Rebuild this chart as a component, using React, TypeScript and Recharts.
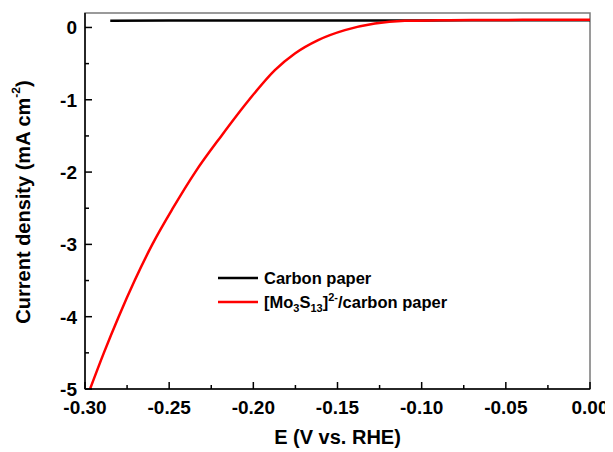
import React from 'react';
import {
  LineChart,
  Line,
  XAxis,
  YAxis,
  Legend,
  ReferenceArea,
} from 'recharts';

const FONT = "'Liberation Sans', Arial, Helvetica, sans-serif";

// Carbon paper (bare electrode)
const carbonE = [-0.285, -0.25, -0.2, -0.15, -0.1, -0.05, 0.0];
const carbonJ = [0.094, 0.095, 0.096, 0.097, 0.098, 0.099, 0.099];

// [Mo3S13]2-/carbon paper
const moE = [
  -0.297, -0.2888, -0.28, -0.2705, -0.26, -0.2478, -0.2345, -0.219, -0.2025,
  -0.1872, -0.1753, -0.1615, -0.1456, -0.1278, -0.11, -0.09, -0.07, -0.04,
  0.0,
];
const moJ = [
  -5.0, -4.5, -4.0, -3.5, -3.0, -2.5, -2.0, -1.5, -1.0, -0.59, -0.36, -0.175,
  -0.037, 0.055, 0.092, 0.099, 0.103, 0.105, 0.107,
];

const xTicks = [
  -0.3, -0.275, -0.25, -0.225, -0.2, -0.175, -0.15, -0.125, -0.1, -0.075,
  -0.05, -0.025, 0,
];
const yTicks = [-5, -4.5, -4, -3.5, -3, -2.5, -2, -1.5, -1, -0.5, 0];

const carbonData = carbonE.map((e, i) => ({ e, j: carbonJ[i] }));
const moData = moE.map((e, i) => ({ e, j: moJ[i] }));

const XTick = (props: any) => {
  const { x, y, payload } = props;
  const v = payload.value as number;
  const major = Math.round(v * 1000) % 50 === 0;
  return (
    <g>
      <line x1={x} y1={y} x2={x} y2={y - (major ? 7 : 4)} stroke="#000" strokeWidth={1.5} />
      {major && (
        <text
          x={x}
          y={y + 25}
          textAnchor="middle"
          fontFamily={FONT}
          fontWeight={700}
          fontSize={19}
          fill="#000"
        >
          {v.toFixed(2)}
        </text>
      )}
    </g>
  );
};

const YTick = (props: any) => {
  const { x, y, payload } = props;
  const v = payload.value as number;
  const major = Number.isInteger(v);
  return (
    <g>
      <line x1={x} y1={y} x2={x + (major ? 7 : 4)} y2={y} stroke="#000" strokeWidth={1.5} />
      {major && (
        <text
          x={x - 8}
          y={y + 7}
          textAnchor="end"
          fontFamily={FONT}
          fontWeight={700}
          fontSize={19}
          fill="#000"
        >
          {String(v)}
        </text>
      )}
    </g>
  );
};

const XTitle = (props: any) => {
  const vb = props.viewBox;
  return (
    <text
      x={vb.x + vb.width / 2}
      y={vb.y + 55}
      textAnchor="middle"
      fontFamily={FONT}
      fontWeight={700}
      fontSize={20}
      fill="#000"
    >
      E (V vs. RHE)
    </text>
  );
};

const Swatch = ({ color }: { color: string }) => (
  <svg width={40} height={24} style={{ verticalAlign: 'top', marginRight: 6 }}>
    <line x1={0} y1={12} x2={40} y2={12} stroke={color} strokeWidth={2.5} />
  </svg>
);

const subStyle = { fontSize: 11, verticalAlign: -4, lineHeight: 0 };

const LegendBox = () => (
  <div
    style={{
      fontFamily: FONT,
      fontWeight: 700,
      fontSize: 16.5,
      color: '#000',
      lineHeight: '24px',
      whiteSpace: 'nowrap',
    }}
  >
    <div style={{ height: 24 }}>
      <Swatch color="#000000" />
      Carbon paper
    </div>
    <div style={{ height: 24 }}>
      <Swatch color="#ff0000" />
      [Mo<sub style={subStyle}>3</sub>S<sub style={subStyle}>13</sub>]
      <sup style={{ fontSize: 11, verticalAlign: 7, lineHeight: 0 }}>2-</sup>/carbon paper
    </div>
  </div>
);

export default function App() {
  return (
    <div style={{ position: 'relative', width: 600, height: 440 }}>
      <LineChart
        width={600}
        height={440}
        margin={{ top: 5, right: 18, left: 0, bottom: 0 }}
      >
        <ReferenceArea
          x1={-0.3}
          x2={0}
          y1={-5}
          y2={0.2}
          fill="none"
          stroke="#7a7a7a"
          strokeWidth={1.5}
        />
        <XAxis
          type="number"
          dataKey="e"
          domain={[-0.3, 0]}
          ticks={xTicks}
          interval={0}
          allowDataOverflow
          height={59}
          tickSize={0}
          tickMargin={0}
          tickLine={false}
          axisLine={{ stroke: '#000', strokeWidth: 1.5 }}
          tick={<XTick />}
          label={<XTitle />}
        />
        <YAxis
          type="number"
          dataKey="j"
          domain={[-5, 0.2]}
          ticks={yTicks}
          interval={0}
          allowDataOverflow
          width={77}
          tickSize={0}
          tickMargin={0}
          tickLine={false}
          axisLine={{ stroke: '#000', strokeWidth: 1.5 }}
          tick={<YTick />}
        />
        <Legend
          layout="vertical"
          align="center"
          verticalAlign="middle"
          wrapperStyle={{ left: 210, top: 258, width: 'auto' }}
          content={<LegendBox />}
        />
        <Line
          data={carbonData}
          dataKey="j"
          name="Carbon paper"
          type="monotone"
          stroke="#000000"
          strokeWidth={2.5}
          dot={false}
          isAnimationActive={false}
        />
        <Line
          data={moData}
          dataKey="j"
          name="[Mo3S13]2-/carbon paper"
          type="monotone"
          stroke="#ff0000"
          strokeWidth={2.5}
          dot={false}
          isAnimationActive={false}
        />
      </LineChart>
      <div
        style={{
          position: 'absolute',
          left: 16,
          top: 194,
          transform: 'translate(-50%, -50%) rotate(180deg)',
          writingMode: 'vertical-rl',
          textRendering: 'geometricPrecision',
          fontFamily: FONT,
          fontWeight: 700,
          fontSize: 20,
          lineHeight: '24px',
          whiteSpace: 'nowrap',
          color: '#000',
        }}
      >
        Current density (mA cm
        <sup style={{ fontSize: 12, verticalAlign: 8, lineHeight: 0 }}>-2</sup>)
      </div>
    </div>
  );
}
